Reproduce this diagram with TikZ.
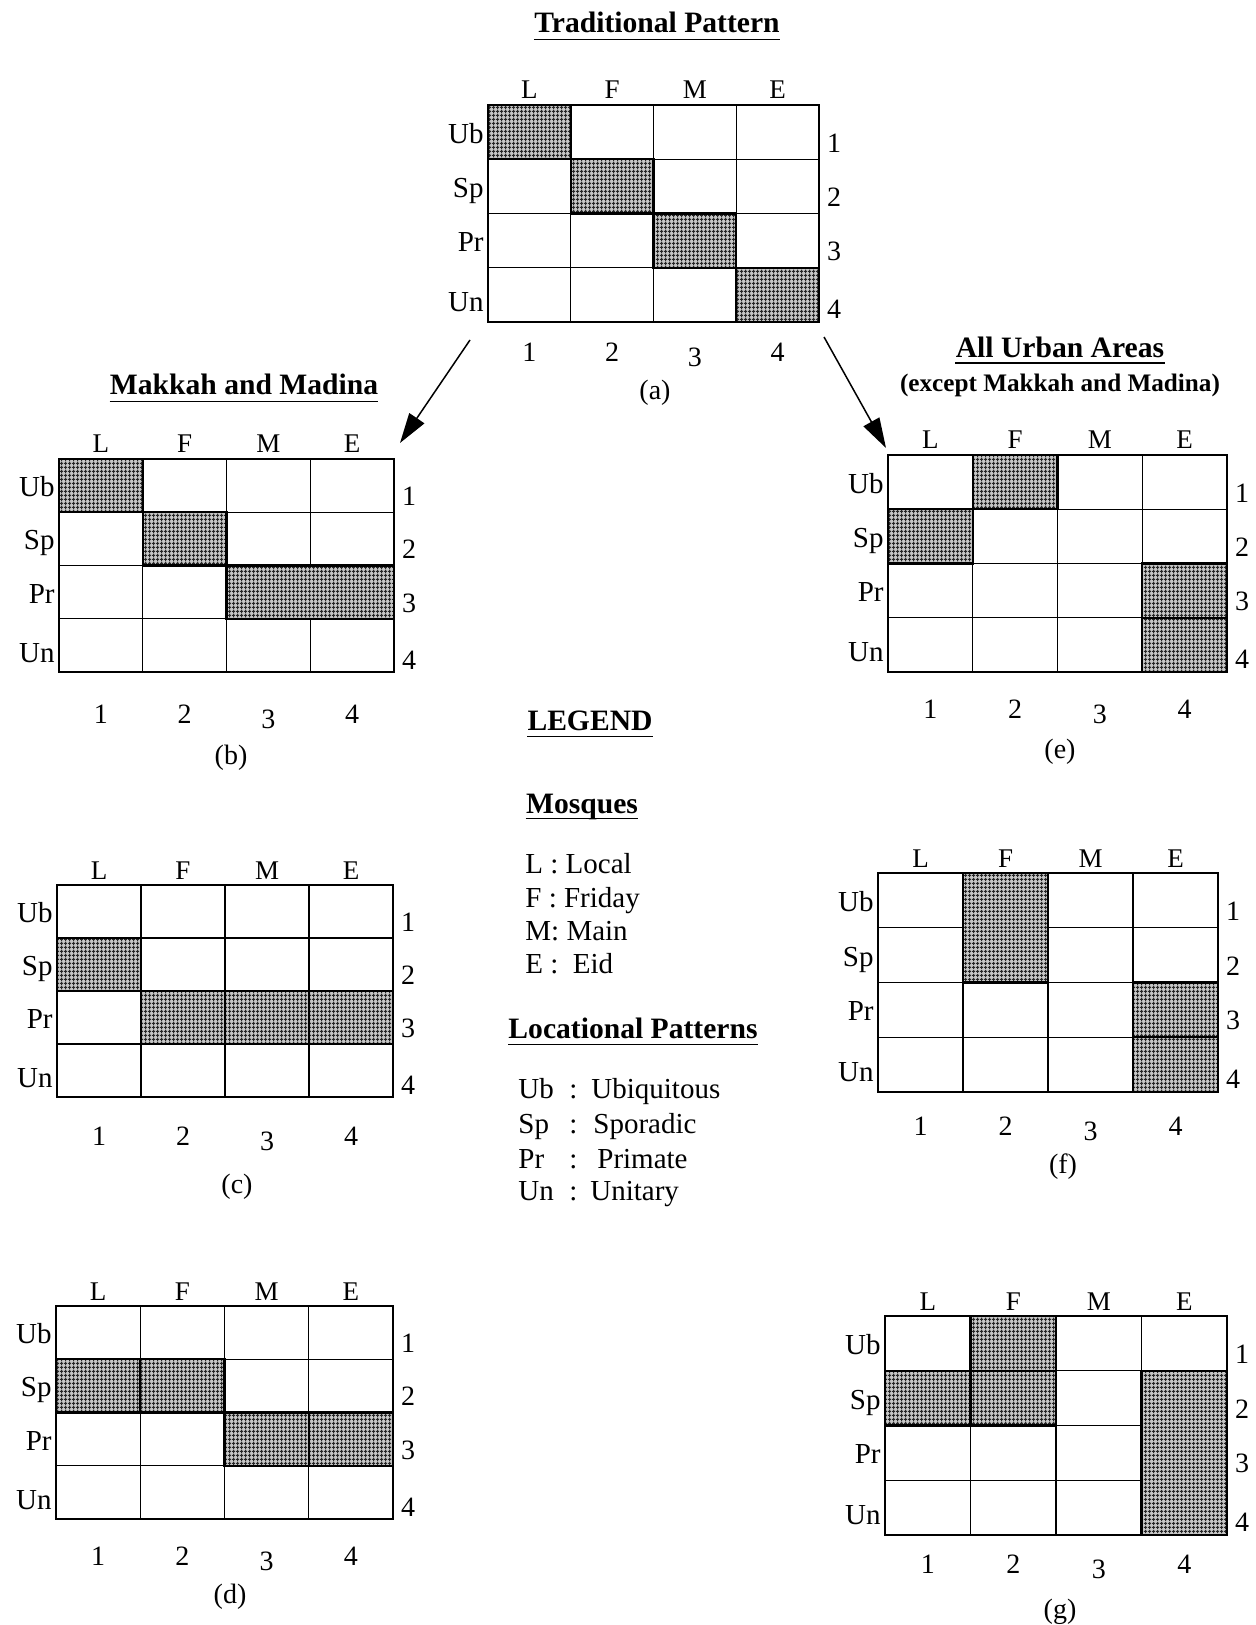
\documentclass[tikz,border=0pt]{standalone}
\usepackage{fontspec}
\setmainfont{Liberation Serif}
\usetikzlibrary{patterns,arrows.meta,calc}
\pgfdeclarepatternformonly{mesh}{\pgfpointorigin}{\pgfqpoint{2pt}{2pt}}{\pgfqpoint{2pt}{2pt}}{%
  \pgfsetlinewidth{0.5pt}%
  \pgfpathmoveto{\pgfqpoint{0pt}{1pt}}\pgfpathlineto{\pgfqpoint{2pt}{1pt}}%
  \pgfpathmoveto{\pgfqpoint{1pt}{0pt}}\pgfpathlineto{\pgfqpoint{1pt}{2pt}}%
  \pgfusepath{stroke}}
\newcommand{\matgrid}[8]{%
  \foreach \cc in {0,...,4}{\foreach \rr in {0,...,4}{%
    \coordinate (#1-\cc-\rr) at ({#2+\cc*(#4-#2)/4},{#3+\rr*(#5-#3)/4});}}%
  \draw[gridline] (#1-0-0) rectangle (#1-4-4);%
  \foreach \ii in {1,2,3}{%
    \draw[gridline] (#1-\ii-0) -- (#1-\ii-4);%
    \draw[gridline] (#1-0-\ii) -- (#1-4-\ii);}%
  \foreach \mytxt [count=\ii] in {L,F,M,E}{%
    \node[hdr,anchor=base] (#1-h\ii) at ({#2+(\ii-0.5)*(#4-#2)/4},{#3-6}) {\mytxt};}%
  \foreach \mytxt [count=\ii] in {Ub,Sp,Pr,Un}{%
    \node[rowlab,anchor=base east] (#1-r\ii) at ({#2-4},{#3+(\ii-0.5)*(#5-#3)/4+11+6*(\ii==4)}) {\mytxt};}%
  \foreach \ii in {1,2,3,4}{%
    \node[numlab,anchor=base] (#1-n\ii) at ({#4+15},{#3+(\ii-0.5)*(#5-#3)/4+20+4*(\ii==4)}) {\ii};%
    \node[numlab,anchor=base] (#1-b\ii) at ({#2+(\ii-0.5)*(#4-#2)/4},{#6+5*(\ii==3)}) {\ii};}%
  \node[sublab] (#1-lab) at (#7,#8) {(#1)};%
}
\newcommand{\cellfill}[5]{%
  \fill[shadecell] (#1-#2-#3) rectangle (#1-#4-#5);%
  \draw[shadeedge] (#1-#2-#3) rectangle (#1-#4-#5);}
\begin{document}
\begin{tikzpicture}[x=0.5pt,y=-0.5pt,
  gridline/.style={line width=0.7pt},
  hdr/.style={inner sep=0pt, font=\fontsize{13.5}{16}\selectfont},
  rowlab/.style={inner sep=0pt, font=\fontsize{14.5}{17}\selectfont},
  numlab/.style={inner sep=0pt, font=\fontsize{14}{16}\selectfont},
  sublab/.style={inner sep=0pt, font=\fontsize{14}{16}\selectfont},
  ttl/.style={inner sep=0pt, anchor=base, font=\bfseries\fontsize{14.8}{17}\selectfont},
  subttl/.style={inner sep=0pt, anchor=base, font=\bfseries\fontsize{12.6}{15}\selectfont},
  leg/.style={inner sep=0pt, anchor=base west, font=\fontsize{14.5}{17}\selectfont},
  uline/.style={line width=0.8pt},
  arr/.style={line width=0.75pt, -{Triangle[length=15pt,width=9pt]}},
  shadecell/.style={fill=gray!45, postaction={pattern=mesh, pattern color=black!85}},
  shadeedge/.style={line width=1.1pt}]
\fill[white] (0,0) rectangle (1256,1625);
\useasboundingbox (0,0) rectangle (1256,1625);

% titles
\node[ttl] (t-trad) at (657,33) {Traditional Pattern};
\draw[uline] ([yshift=-3.3pt]t-trad.base west) -- ([yshift=-3.3pt]t-trad.base east);
\node[ttl] (t-mak) at (244,395) {Makkah and Madina};
\draw[uline] ([yshift=-3.3pt]t-mak.base west) -- ([yshift=-3.3pt]t-mak.base east);
\node[ttl] (t-urb) at (1060,358) {All Urban Areas};
\draw[uline] ([yshift=-2.6pt]t-urb.base west) -- ([yshift=-2.6pt]t-urb.base east);
\node[subttl] (t-exc) at (1060,392) {(except Makkah and Madina)};

% grids
\matgrid{a}{488}{105}{819}{322}{362}{655}{393}
\cellfill{a}{0}{0}{1}{1}
\cellfill{a}{1}{1}{2}{2}
\cellfill{a}{2}{2}{3}{3}
\cellfill{a}{3}{3}{4}{4}

\matgrid{b}{59}{459}{394}{672}{723}{231}{758}
\cellfill{b}{0}{0}{1}{1}
\cellfill{b}{1}{1}{2}{2}
\cellfill{b}{2}{2}{4}{3}

\matgrid{e}{888}{455}{1227}{672}{718}{1060}{752}
\cellfill{e}{1}{0}{2}{1}
\cellfill{e}{0}{1}{1}{2}
\cellfill{e}{3}{2}{4}{3}
\cellfill{e}{3}{3}{4}{4}

\matgrid{c}{57}{885}{393}{1097}{1145}{237}{1187}
\cellfill{c}{0}{1}{1}{2}
\cellfill{c}{1}{2}{2}{3}
\cellfill{c}{2}{2}{3}{3}
\cellfill{c}{3}{2}{4}{3}

\matgrid{f}{878}{873}{1218}{1092}{1135}{1063}{1167}
\cellfill{f}{1}{0}{2}{2}
\cellfill{f}{3}{2}{4}{3}
\cellfill{f}{3}{3}{4}{4}

\matgrid{d}{56}{1306}{393}{1519}{1565}{230}{1597}
\cellfill{d}{0}{1}{1}{2}
\cellfill{d}{1}{1}{2}{2}
\cellfill{d}{2}{2}{3}{3}
\cellfill{d}{3}{2}{4}{3}

\matgrid{g}{885}{1316}{1227}{1535}{1573}{1060}{1612}
\cellfill{g}{1}{0}{2}{1}
\cellfill{g}{1}{1}{2}{2}
\cellfill{g}{0}{1}{1}{2}
\cellfill{g}{3}{1}{4}{4}

% arrows
\coordinate (arrL-from) at (470,340);
\coordinate (arrL-to) at (400,443);
\coordinate (arrR-from) at (824,337);
\coordinate (arrR-to) at (886,448);
\draw[arr] (arrL-from) -- (arrL-to);
\draw[arr] (arrR-from) -- (arrR-to);

% legend
\node[ttl] (leg-t) at (590,730) {LEGEND};
\draw[uline] ([yshift=-3.3pt]leg-t.base west) -- ([yshift=-3.3pt]leg-t.base east);
\node[ttl] (leg-m) at (582,813) {Mosques};
\draw[uline] ([yshift=-2.8pt]leg-m.base west) -- ([yshift=-2.8pt]leg-m.base east);
\node[leg] (leg-L) at (525,873) {L : Local};
\node[leg] (leg-F) at (525,907) {F : Friday};
\node[leg] (leg-M) at (525,940) {M: Main};
\node[leg] (leg-E) at (525,973) {E :\ \ Eid};
\node[ttl] (leg-p) at (633,1038) {Locational Patterns};
\draw[uline] ([yshift=-3.3pt]leg-p.base west) -- ([yshift=-3.3pt]leg-p.base east);
\node[leg] (leg-Ub) at (518,1098) {\makebox[25.5pt][l]{Ub}\makebox[11pt][l]{:}Ubiquitous};
\node[leg] (leg-Sp) at (518,1133) {\makebox[25.5pt][l]{Sp}\makebox[12pt][l]{:}Sporadic};
\node[leg] (leg-Pr) at (518,1168) {\makebox[25.5pt][l]{Pr}\makebox[14pt][l]{:}Primate};
\node[leg] (leg-Un) at (518,1200) {\makebox[25.5pt][l]{Un}\makebox[10.5pt][l]{:}Unitary};
\end{tikzpicture}
\end{document}
